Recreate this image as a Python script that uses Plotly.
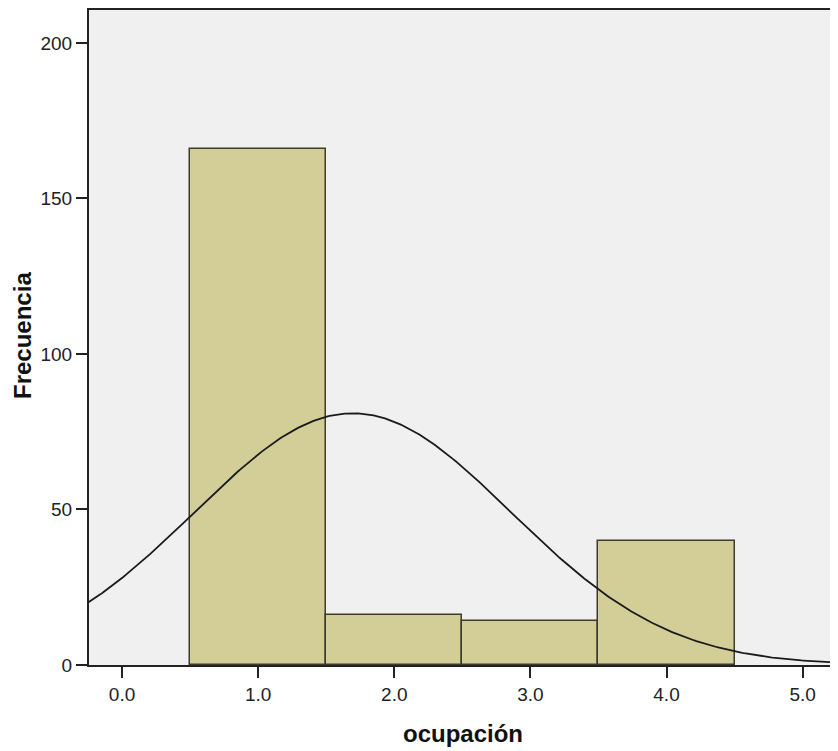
import numpy as np
import plotly.graph_objects as go

bin_centers = [1.0, 2.0, 3.0, 4.0]
frequencies = [166, 16, 14, 40]
x_ticks = [0.0, 1.0, 2.0, 3.0, 4.0, 5.0]
x_tick_labels = ["0.0", "1.0", "2.0", "3.0", "4.0", "5.0"]
y_ticks = [0, 50, 100, 150, 200]
bin_width = 1.0
x_title = "ocupación"
y_title = "Frecuencia"

# Normal curve fitted to the histogram data
c = np.array(bin_centers)
f = np.array(frequencies)
n = f.sum()
mean = (c * f).sum() / n
sd = np.sqrt(((c - mean) ** 2 * f).sum() / (n - 1))
xs = np.linspace(-0.3, 5.3, 400)
ys = n * bin_width / (sd * np.sqrt(2 * np.pi)) * np.exp(-0.5 * ((xs - mean) / sd) ** 2)

fig = go.Figure()
fig.add_trace(go.Bar(
    x=bin_centers, y=frequencies, width=bin_width,
    marker=dict(color="#d3ce98", line=dict(color="#3c3b2c", width=1.5)),
    showlegend=False,
))
fig.add_trace(go.Scatter(
    x=xs, y=ys, mode="lines", line=dict(color="#1a1a1a", width=1.8),
    showlegend=False,
))

font_fam = "Liberation Sans, Arial, sans-serif"
# page body has an 8px margin; figure size/margins compensate for it
fig.update_layout(
    width=830, height=743,
    margin=dict(l=81, r=0, t=2, b=86),
    paper_bgcolor="white",
    plot_bgcolor="#f0f0f0",
    bargap=0,
    font=dict(family=font_fam, color="#222222"),
    xaxis=dict(
        range=[-0.243, 5.26], automargin=False,
        tickvals=x_ticks, ticktext=x_tick_labels,
        ticks="outside", ticklen=11, tickwidth=2, tickcolor="#222222",
        showline=True, linecolor="#222222", linewidth=2, mirror=True,
        showgrid=False, zeroline=False,
        tickfont=dict(size=19, family=font_fam, color="#222222"),
    ),
    yaxis=dict(
        range=[0, 210.6], automargin=False,
        tickvals=y_ticks,
        ticks="outside", ticklen=11, tickwidth=2, tickcolor="#222222",
        showline=True, linecolor="#222222", linewidth=2,
        showgrid=False, zeroline=False,
        tickfont=dict(size=19, family=font_fam, color="#222222"),
    ),
    annotations=[
        dict(text="<b>" + x_title + "</b>", xref="paper", yref="paper",
             x=(463 - 89) / 749, y=(665 - 733) / 655, xanchor="center", yanchor="middle",
             showarrow=False, font=dict(size=24, family=font_fam, color="#111111")),
        dict(text="<b>" + y_title + "</b>", xref="paper", yref="paper",
             x=(22 - 89) / 749, y=(665 - 336) / 655, xanchor="center", yanchor="middle",
             textangle=-90, showarrow=False,
             font=dict(size=24, family=font_fam, color="#111111")),
    ],
)

fig.write_html("out.html")
